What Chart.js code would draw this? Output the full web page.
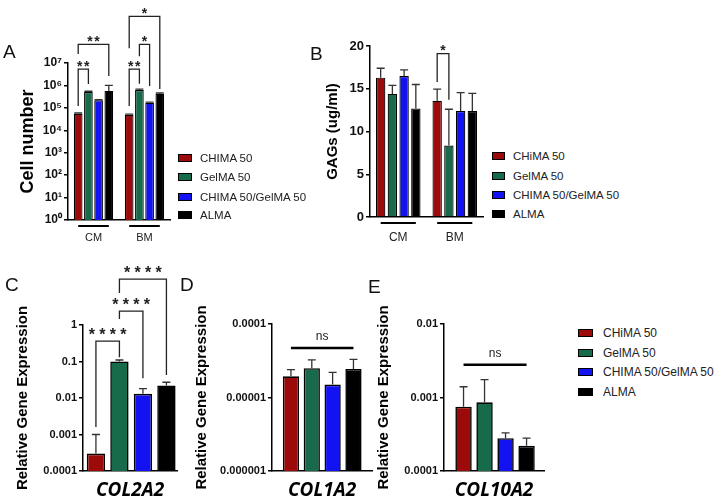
<!DOCTYPE html>
<html>
<head>
<meta charset="utf-8">
<script src="https://cdn.jsdelivr.net/npm/chart.js@4.4.1/dist/chart.umd.min.js"></script>
<style>
  body { margin: 0; background: #fff; width: 720px; height: 504px; position: relative; overflow: hidden;
         font-family: "Liberation Sans", Arial, sans-serif; }
  canvas { position: absolute; }
  .letter { position: absolute; font-size: 19px; line-height: 19px; color: #111; }
  .legtxt { position: absolute; white-space: nowrap; color: #222; line-height: 14px; }
  .legsw { position: absolute; border: 1.5px solid #000; box-sizing: border-box; }
</style>
</head>
<body>
<canvas id="cA" width="176" height="250" style="left:0;top:0"></canvas>
<canvas id="cB" width="190" height="250" style="left:300px;top:0"></canvas>
<canvas id="cC" width="185" height="254" style="left:0;top:250px"></canvas>
<canvas id="cD" width="190" height="254" style="left:185px;top:250px"></canvas>
<canvas id="cE" width="175" height="254" style="left:375px;top:250px"></canvas>
<div class="letter" style="left:3px;top:42px">A</div>
<div class="letter" style="left:310px;top:44px">B</div>
<div class="letter" style="left:5px;top:275px">C</div>
<div class="letter" style="left:180px;top:275px">D</div>
<div class="letter" style="left:368px;top:277px">E</div>
<script>
// ---- data ----
const groups = ['CM', 'BM'];
const namesA = ['CHIMA 50', 'GelMA 50', 'CHIMA 50/GelMA 50', 'ALMA'];
const namesB = ['CHiMA 50', 'GelMA 50', 'CHIMA 50/GelMA 50', 'ALMA'];
const namesGene = ['CHiMA 50', 'GelMA 50', 'CHIMA 50/GelMA 50', 'ALMA'];
const colors = ['#9c0a0a', '#176b4b', '#1212f2', '#000000'];

// cell number (A)
const cellChima = [5.4e4, 4.9e4];
const cellGelma = [5.1e5, 6.3e5];
const cellMix = [2.2e5, 1.7e5];
const cellAlma = [5.7e5, 4.2e5];
const cellErr = [[5.9e4, 5.3e4], [5.5e5, 6.8e5], [2.3e5, 1.8e5], [1.0e6, 4.6e5]];
const cellTicks = [1, 10, 100, 1e3, 1e4, 1e5, 1e6, 1e7];
const cellTickLabels = ['10⁰', '10¹', '10²', '10³', '10⁴', '10⁵', '10⁶', '10⁷'];

// GAGs (B)
const gagChima = [16.3, 13.6];
const gagGelma = [14.4, 8.35];
const gagMix = [16.5, 12.4];
const gagAlma = [12.7, 12.4];
const gagErr = [[17.4, 14.95], [15.4, 12.6], [17.2, 14.55], [15.5, 14.45]];
const gagTicks = [0, 5, 10, 15, 20];

// gene expression (C, D, E)
const col2a2 = [3e-4, 0.1, 0.013, 0.022];
const col2a2Err = [1e-3, 0.11, 0.018, 0.027];
const col1a2 = [1.94e-5, 2.5e-5, 1.5e-5, 2.45e-5];
const col1a2Err = [2.4e-5, 3.25e-5, 2.2e-5, 3.3e-5];
const col10a2 = [7.5e-4, 8.6e-4, 2.8e-4, 2.2e-4];
const col10a2Err = [1.4e-3, 1.75e-3, 3.3e-4, 2.8e-4];
const cTicks = [1e-4, 1e-3, 1e-2, 0.1, 1];
const cTickLabels = ['0.0001', '0.001', '0.01', '0.1', '1'];
const dTicks = [1e-6, 1e-5, 1e-4];
const dTickLabels = ['0.000001', '0.00001', '0.0001'];
const eTicks = [1e-4, 1e-3, 1e-2];
const eTickLabels = ['0.0001', '0.001', '0.01'];

// significance brackets: [dataset, index] ends, level and leg ends in data units
const sigA = [
  {from: [0, 0], to: [1, 0], y: 5.3e6, legs: [1.2e5, 1.15e6], text: '**'},
  {from: [0, 0], to: [3, 0], y: 6.8e7, legs: [2.5e7, 2.6e6], text: '**'},
  {from: [0, 1], to: [1, 1], y: 5.3e6, legs: [1.2e5, 1.2e6], text: '**'},
  {from: [1, 1], to: [2, 1], y: 6.8e7, legs: [2e7, 9.4e5], text: '*'},
  {from: [0, 1], to: [3, 1], y: 1.2e9, legs: [4.5e7, 7e5], text: '*'}
];
const sigB = [{from: [0, 1], to: [1, 1], y: 19.1, legs: [15.8, 13.7], text: '*'}];
const sigC = [
  {from: [0, 0], to: [0, 1], y: 0.36, legs: [1.6e-3, 0.13], text: '****'},
  {from: [0, 1], to: [0, 2], y: 2.4, legs: [1.45, 0.035], text: '****'},
  {from: [0, 1], to: [0, 3], y: 18, legs: [7.5, 0.043], text: '****'}
];
const nsD = {from: [0, 0], to: [0, 3], y: 4.7e-5, text: 'ns'};
const nsE = {from: [0, 0], to: [0, 3], y: 2.8e-3, text: 'ns'};

// ---- drawing ----
const FONT = '"Liberation Sans", Arial, sans-serif';
Chart.defaults.font.family = FONT;
Chart.defaults.color = '#111';

function drawStars(ctx, text, cx, ly, st) {
  ctx.fillStyle = '#222';
  ctx.font = 'bold ' + st.size + 'px ' + FONT;
  ctx.textAlign = 'center';
  ctx.textBaseline = 'alphabetic';
  const n = text.length;
  for (let k = 0; k < n; k++) {
    ctx.fillText(text[k], cx + (k - (n - 1) / 2) * st.gap, ly + st.dy);
  }
}

function makeMarks(cfg) {
  return {
    id: 'marks',
    afterDatasetsDraw(chart) {
      const ctx = chart.ctx;
      const ys = chart.scales.y;
      const bar = p => chart.getDatasetMeta(p[0]).data[p[1]];
      const py = v => ys.getPixelForValue(v);
      ctx.save();
      (cfg.errors || []).forEach((row, d) => row.forEach((v, i) => {
        const b = chart.getDatasetMeta(d).data[i];
        const top = py(v);
        ctx.strokeStyle = '#333';
        ctx.lineWidth = 1.3;
        ctx.beginPath();
        ctx.moveTo(b.x, b.y);
        ctx.lineTo(b.x, top);
        ctx.moveTo(b.x - 4, top);
        ctx.lineTo(b.x + 4, top);
        ctx.stroke();
      }));
      if (cfg.underline) {
        const last = chart.data.datasets.length - 1;
        ctx.strokeStyle = '#000';
        ctx.lineWidth = 2;
        chart.data.labels.forEach((l, i) => {
          const a = bar([0, i]), b = bar([last, i]);
          const yy = chart.chartArea.bottom + 6;
          ctx.beginPath();
          ctx.moveTo(a.x, yy);
          ctx.lineTo(b.x, yy);
          ctx.stroke();
        });
      }
      (cfg.sig || []).forEach(s => {
        const a = bar(s.from), b = bar(s.to), ly = py(s.y);
        ctx.strokeStyle = '#222';
        ctx.lineWidth = 1.3;
        ctx.beginPath();
        ctx.moveTo(a.x, py(s.legs[0]));
        ctx.lineTo(a.x, ly);
        ctx.lineTo(b.x, ly);
        ctx.lineTo(b.x, py(s.legs[1]));
        ctx.stroke();
        drawStars(ctx, s.text, (a.x + b.x) / 2, ly, cfg.star);
      });
      if (cfg.ns) {
        const s = cfg.ns;
        const a = bar(s.from), b = bar(s.to), ly = py(s.y);
        ctx.strokeStyle = '#000';
        ctx.lineWidth = 2.5;
        ctx.beginPath();
        ctx.moveTo(a.x, ly);
        ctx.lineTo(b.x, ly);
        ctx.stroke();
        ctx.fillStyle = '#222';
        ctx.font = '12px ' + FONT;
        ctx.textAlign = 'center';
        ctx.textBaseline = 'alphabetic';
        ctx.fillText(s.text, (a.x + b.x) / 2, ly - 8);
      }
      ctx.restore();
    }
  };
}

function yAxis(extra, tickLabels, tickSize, title, titleSize, titleTop, width) {
  return Object.assign({
    afterBuildTicks: s => { s.ticks = extra.vals.map(v => ({value: v})); },
    ticks: {autoSkip: false, padding: 2, color: '#111', font: {size: tickSize, weight: 'bold'},
            callback: (v, i) => tickLabels[i]},
    grid: {drawOnChartArea: false, tickLength: 4, color: '#000', lineWidth: 1.5},
    border: {color: '#000', width: 1.5},
    title: {display: true, text: title, color: '#000', font: {size: titleSize, weight: 'bold'},
            padding: {top: titleTop, bottom: 0}},
    afterFit: s => { s.width = width; }
  }, extra.scale);
}

function groupChart(id, names, series, pad, catPct, barPct, y, x, marks) {
  return new Chart(document.getElementById(id), {
    type: 'bar',
    data: {
      labels: groups,
      datasets: names.map((n, k) => ({
        label: n, data: series[k], backgroundColor: colors[k], borderColor: '#000',
        borderWidth: 1.2, categoryPercentage: catPct, barPercentage: barPct
      }))
    },
    options: {
      responsive: false, animation: false, devicePixelRatio: 1,
      layout: {padding: pad},
      plugins: {legend: {display: false}, tooltip: {enabled: false}},
      scales: {
        x: {grid: {display: false, drawTicks: false}, border: {color: '#000', width: 1.5},
            ticks: {font: {size: x.size}, color: '#222', padding: x.padding},
            afterFit: s => { s.height = 24; }},
        y: y
      }
    },
    plugins: [marks]
  });
}

function geneChart(id, values, xMin, xMax, gene, pad, y, marks) {
  return new Chart(document.getElementById(id), {
    type: 'bar',
    data: {
      datasets: [{
        data: values.map((v, i) => ({x: i, y: v})),
        backgroundColor: colors, borderColor: '#000', borderWidth: 1.6,
        categoryPercentage: 1, barPercentage: 0.78
      }]
    },
    options: {
      responsive: false, animation: false, devicePixelRatio: 1,
      layout: {padding: pad},
      plugins: {legend: {display: false}, tooltip: {enabled: false}},
      scales: {
        x: {type: 'linear', offset: false, min: xMin, max: xMax,
            ticks: {display: false}, grid: {display: false, drawTicks: false},
            border: {color: '#000', width: 1.5},
            title: {display: true, text: gene, color: '#000',
                    font: {family: '"Open Sans", sans-serif', size: 19, weight: 'bold', style: 'italic'},
                    padding: {top: 0, bottom: 2}},
            afterFit: s => { s.height = 33; }},
        y: y
      }
    },
    plugins: [marks]
  });
}

const starSmall = {size: 14, gap: 7, dy: 1.5};
const starBig = {size: 16, gap: 10.5, dy: -1.5};

groupChart('cA', namesA, [cellChima, cellGelma, cellMix, cellAlma],
  {top: 63, right: 6, bottom: 6, left: 0}, 0.8, 0.85,
  yAxis({vals: cellTicks, scale: {type: 'logarithmic', min: 1, max: 1e7}}, cellTickLabels, 12,
        'Cell number', 18, 17, 68),
  {size: 11, padding: 11},
  makeMarks({errors: cellErr, underline: true, sig: sigA, star: starSmall}));

groupChart('cB', namesB, [gagChima, gagGelma, gagMix, gagAlma],
  {top: 46, right: 7, bottom: 9, left: 0}, 0.83, 0.8,
  yAxis({vals: gagTicks, scale: {type: 'linear', min: 0, max: 20}}, gagTicks.map(String), 13,
        'GAGs (ug/ml)', 15, 24, 70),
  {size: 12, padding: 13},
  makeMarks({errors: gagErr, underline: true, sig: sigB, star: starSmall}));

geneChart('cC', col2a2, -0.55, 3.45, 'COL2A2', {top: 75, right: 8, bottom: 0, left: 0},
  yAxis({vals: cTicks, scale: {type: 'logarithmic', min: 1e-4, max: 1}}, cTickLabels, 11,
        'Relative Gene Expression', 15, 14, 83),
  makeMarks({errors: [col2a2Err], sig: sigC, star: starBig}));

geneChart('cD', col1a2, -0.91, 3.89, 'COL1A2', {top: 74, right: 3, bottom: 0, left: 0},
  yAxis({vals: dTicks, scale: {type: 'logarithmic', min: 1e-6, max: 1e-4}}, dTickLabels, 11,
        'Relative Gene Expression', 15, 8, 87),
  makeMarks({errors: [col1a2Err], ns: nsD}));

geneChart('cE', col10a2, -0.93, 3.83, 'COL10A2', {top: 74, right: 6, bottom: 0, left: 0},
  yAxis({vals: eTicks, scale: {type: 'logarithmic', min: 1e-4, max: 1e-2}}, eTickLabels, 11,
        'Relative Gene Expression', 15, 0, 69),
  makeMarks({errors: [col10a2Err], ns: nsE}));

// ---- legends (HTML text) ----
function legend(names, swLeft, swW, textLeft, centers, fs) {
  names.forEach((n, k) => {
    const sw = document.createElement('div');
    sw.className = 'legsw';
    sw.style.cssText = `left:${swLeft}px;top:${centers[k] - 4}px;width:${swW}px;height:8px;background:${colors[k]}`;
    document.body.appendChild(sw);
    const t = document.createElement('div');
    t.className = 'legtxt';
    t.style.cssText = `left:${textLeft}px;top:${centers[k] - 7}px;font-size:${fs}px`;
    t.textContent = n;
    document.body.appendChild(t);
  });
}
legend(namesA, 178, 14, 200, [158, 177, 197, 215], 11.5);
legend(namesB, 492, 13, 513, [156, 175.5, 195, 214], 11.5);
legend(namesGene, 578, 15, 603, [333, 352.5, 372, 392], 12);
</script>
</body>
</html>
